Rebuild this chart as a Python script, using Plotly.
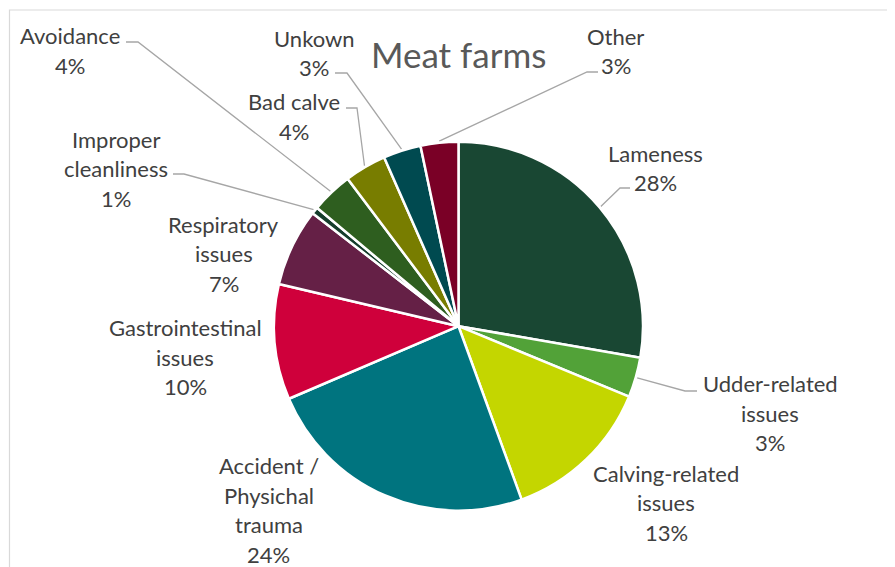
import math
import plotly.graph_objects as go

# ---------------- data ----------------
categories = ["Lameness", "Udder-related issues", "Calving-related issues",
              "Accident / Physichal trauma", "Gastrointestinal issues",
              "Respiratory issues", "Improper cleanliness", "Avoidance",
              "Bad calve", "Unkown", "Other"]
values = [27.7, 3.5, 13.2, 24.1, 10.1, 6.8, 0.6, 3.65, 3.65, 3.3, 3.3]
pct_labels = ["28%", "3%", "13%", "24%", "10%", "7%", "1%", "4%", "4%", "3%", "3%"]
label_lines = [["Lameness"], ["Udder-related", "issues"], ["Calving-related", "issues"],
               ["Accident /", "Physichal", "trauma"], ["Gastrointestinal", "issues"],
               ["Respiratory", "issues"], ["Improper", "cleanliness"], ["Avoidance"],
               ["Bad calve"], ["Unkown"], ["Other"]]
colors = ["#194733", "#52a238", "#c4d600", "#00747f", "#cf003b", "#652046",
          "#153d2c", "#2e5e1f", "#787d00", "#004a50", "#7a0026"]
title_text = "Meat farms"

# ---------------- layout constants (screen pixels) ----------------
SW, SH = 895, 567          # browser window
OFF = 8                    # default page body margin
W, H = SW - OFF, SH - OFF  # figure size
CX, CY, R = 458.5, 326.2, 184.5
LINE_H = 29.5
FONT = "Lato, 'Open Sans', sans-serif"

label_pos = [(655, 153), (770, 383.5), (666, 473), (268.5, 465.7), (185, 327.5),
             (223.5, 224), (116, 139), (69.5, 35.5), (293.5, 101.7), (314, 38), (615.8, 36)]
leaders = [((630, 188), (620, 188)), ((697, 391), (685, 391)), None, None, None, None,
           ((173, 174), (184, 174)), ((126, 42), (138, 42)), ((346, 108), (357, 108)),
           ((335, 73), (347, 73)), ((598, 72), (587, 72))]

fig = go.Figure()

fig.add_trace(go.Pie(
    labels=categories, values=values, sort=False, direction="clockwise", rotation=0,
    marker=dict(colors=colors, line=dict(color="white", width=2.5)),
    textinfo="none", hoverinfo="label+percent", showlegend=False,
    domain=dict(x=[(CX - R - OFF) / W, (CX + R - OFF) / W],
                y=[1 - (CY + R - OFF) / H, 1 - (CY - R - OFF) / H]),
))

total = sum(values)
lx, ly = [], []
cum = 0.0
for v, ld in zip(values, leaders):
    mid = (cum + v / 2) / total
    cum += v
    if ld is None:
        continue
    ang = 2 * math.pi * mid
    ax = CX + (R + 1.5) * math.sin(ang)
    ay = CY - (R + 1.5) * math.cos(ang)
    (ex, ey), (bx, by) = ld
    lx += [ax, bx, ex, None]
    ly += [ay, by, ey, None]

fig.add_trace(go.Scatter(x=lx, y=ly, mode="lines", line=dict(color="#a6a6a6", width=1.3),
                         hoverinfo="skip", showlegend=False))

annotations = []
for lines, pct, (px, py) in zip(label_lines, pct_labels, label_pos):
    for i, t in enumerate(lines + [pct]):
        annotations.append(dict(x=px, y=py + i * LINE_H, text=t, showarrow=False,
                                xref="x", yref="y", xanchor="center", yanchor="middle",
                                font=dict(family=FONT, size=22, color="#404040")))
annotations.append(dict(x=458.5, y=54, text=title_text, showarrow=False, xref="x", yref="y",
                        xanchor="center", yanchor="middle",
                        font=dict(family=FONT, size=35, color="#595959")))

fig.update_layout(
    width=W, height=H, autosize=False,
    margin=dict(l=0, r=0, t=0, b=0),
    paper_bgcolor="white", plot_bgcolor="rgba(0,0,0,0)",
    xaxis=dict(range=[OFF, SW], visible=False, domain=[0, 1], fixedrange=True),
    yaxis=dict(range=[SH, OFF], visible=False, domain=[0, 1], fixedrange=True),
    annotations=annotations,
    shapes=[dict(type="rect", xref="x", yref="y", x0=9.5, y0=10, x1=SW + 20, y1=SH + 20,
                 line=dict(color="#d9d9d9", width=1.2), fillcolor="rgba(0,0,0,0)", layer="below")],
)

fig.write_html("out.html")
